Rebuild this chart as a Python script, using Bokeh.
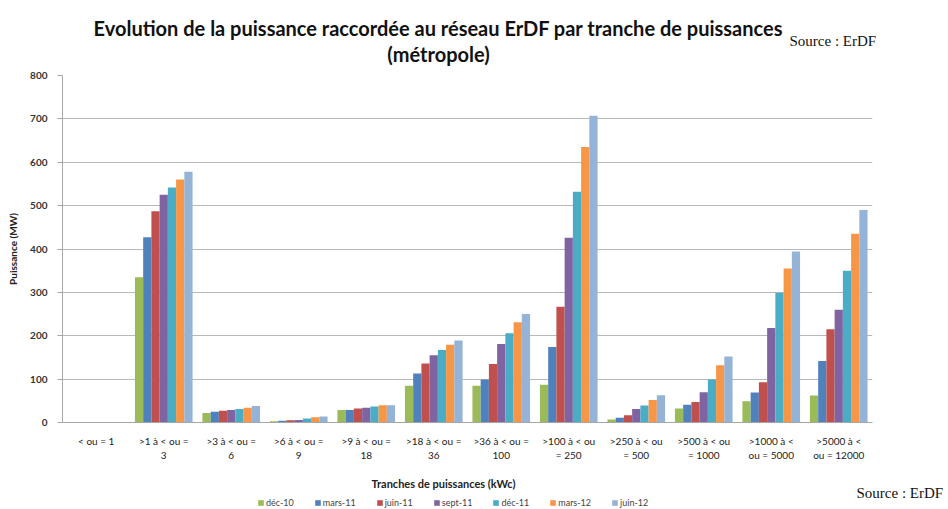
from bokeh.plotting import figure
from bokeh.layouts import column
from bokeh.models import (ColumnDataSource, Legend, LegendItem, FactorRange,
                          SingleIntervalTicker, Range1d)
from bokeh.transform import dodge
from bokeh.core.properties import value
from bokeh.embed import file_html
from bokeh.resources import INLINE

categories = [
    "< ou = 1",
    ">1 à < ou =\n3",
    ">3 à < ou =\n6",
    ">6 à < ou =\n9",
    ">9 à < ou =\n18",
    ">18 à < ou =\n36",
    ">36 à < ou =\n100",
    ">100 à < ou\n= 250",
    ">250 à < ou\n= 500",
    ">500 à < ou\n= 1000",
    ">1000 à <\nou = 5000",
    ">5000 à <\nou = 12000",
]
series = ["déc-10", "mars-11", "juin-11", "sept-11", "déc-11", "mars-12", "juin-12"]
dec_10  = [0, 335, 22, 3, 29, 85, 85, 87, 7, 32, 49, 62]
mars_11 = [0, 427, 25, 4, 29, 113, 99, 174, 11, 41, 69, 142]
juin_11 = [0, 487, 27, 5, 32, 136, 135, 267, 17, 47, 93, 215]
sept_11 = [0, 525, 29, 6, 34, 155, 181, 426, 31, 70, 218, 260]
dec_11  = [0, 542, 31, 9, 37, 167, 206, 532, 39, 99, 299, 350]
mars_12 = [0, 560, 34, 12, 40, 179, 231, 635, 52, 132, 355, 435]
juin_12 = [0, 578, 38, 14, 40, 189, 250, 707, 63, 152, 394, 490]
colors = ["#9BBB59", "#4F81BD", "#C0504D", "#8064A2", "#4BACC6", "#F79646", "#95B3D7"]

title_line1 = "Evolution de la puissance raccordée au réseau ErDF par tranche de puissances"
title_line2 = "(métropole)"
x_title = "Tranches de puissances (kWc)"
y_title = "Puissance (MW)"
source_text = "Source : ErDF"

W = 948
TOP_H, MAIN_H, BOT_H = 68, 402, 39

# ---- top strip: title and source
pt = figure(width=W, height=TOP_H, x_range=Range1d(0, W), y_range=Range1d(TOP_H, 0),
            x_axis_type=None, y_axis_type=None, output_backend="svg", toolbar_location=None,
            min_border=0, frame_align=False)
pt.outline_line_color = None
pt.text(x=[438, 438], y=[27, 53], text=[title_line1, title_line2],
        text_font=value("Lato"), text_font_style="bold", text_font_size="20px",
        text_align="center", text_baseline="middle", text_color="#111111")
pt.text(x=[789], y=[40], text=[source_text], text_font=value("Liberation Serif"),
        text_font_size="15px", text_align="left", text_baseline="middle", text_color="#111111")

# ---- main chart
data = {"cat": categories}
values = [dec_10, mars_11, juin_11, sept_11, dec_11, mars_12, juin_12]
keys = ["s%d" % i for i in range(len(series))]
for k, v in zip(keys, values):
    data[k] = v
src = ColumnDataSource(data)

p = figure(width=W, height=MAIN_H, x_range=FactorRange(*categories), y_range=(0, 800),
           output_backend="svg", toolbar_location=None, frame_align=False,
           min_border_left=62, min_border_right=76, min_border_top=7, min_border_bottom=48)
p.outline_line_color = None
p.xgrid.grid_line_color = None
p.ygrid.grid_line_color = "#B8B8B8"
p.ygrid.grid_line_width = 1
p.yaxis.ticker = SingleIntervalTicker(interval=100)
p.yaxis.minor_tick_line_color = None
p.yaxis.axis_line_color = "#A6A6A6"
p.yaxis.major_tick_line_color = "#A6A6A6"
p.yaxis.major_tick_out = 5
p.yaxis.major_tick_in = 0
p.yaxis.major_label_text_font = "Lato"
p.yaxis.major_label_text_font_style = "bold"
p.yaxis.major_label_text_font_size = "10px"
p.yaxis.major_label_text_color = "#333333"
p.yaxis.major_label_standoff = 10
p.yaxis.axis_label = y_title
p.yaxis.axis_label_text_font = "Lato"
p.yaxis.axis_label_text_font_style = "bold"
p.yaxis.axis_label_text_font_size = "10px"
p.yaxis.axis_label_text_color = "#222222"
p.yaxis.axis_label_standoff = 8

p.xaxis.axis_line_color = "#A6A6A6"
p.xaxis.major_tick_line_color = None
p.xaxis.major_tick_out = 0
p.xaxis.major_label_text_font = "Lato"
p.xaxis.major_label_text_font_size = "10px"
p.xaxis.major_label_text_color = "#222222"
p.xaxis.major_label_standoff = 12
p.xaxis.major_label_orientation = "horizontal"

bw = 0.122
for i, (k, c) in enumerate(zip(keys, colors)):
    off = (i - 3) * bw
    p.vbar(x=dodge("cat", off, range=p.x_range), top=k, width=bw, bottom=0,
           source=src, fill_color=c, line_color=None)

# ---- bottom strip: x axis title, source, legend
pb = figure(width=W, height=BOT_H, x_range=Range1d(0, W), y_range=Range1d(BOT_H, 0),
            x_axis_type=None, y_axis_type=None, output_backend="svg", toolbar_location=None,
            min_border=0, frame_align=False)
pb.outline_line_color = None
pb.text(x=[443], y=[13], text=[x_title], text_font=value("Lato"), text_font_style="bold",
        text_font_size="11px", text_align="center", text_baseline="middle", text_color="#222222")
pb.text(x=[856], y=[22], text=[source_text], text_font=value("Liberation Serif"),
        text_font_size="15px", text_align="left", text_baseline="middle", text_color="#111111")
items = []
for name, c in zip(series, colors):
    r = pb.vbar(x=[-1000], bottom=[0], top=[0], width=0, fill_color=c, line_color=None)
    items.append(LegendItem(label=name, renderers=[r]))
legend = Legend(items=items, orientation="horizontal", location=(257, 1),
                label_text_font="Lato", label_text_font_size="9px", label_text_color="#444444",
                glyph_width=7, glyph_height=7, label_standoff=2, spacing=20,
                padding=0, margin=0, border_line_color=None, background_fill_alpha=0,
                label_height=8)
pb.add_layout(legend)

layout = column(pt, p, pb, spacing=0)
open("out.html", "w").write(file_html(layout, INLINE))
